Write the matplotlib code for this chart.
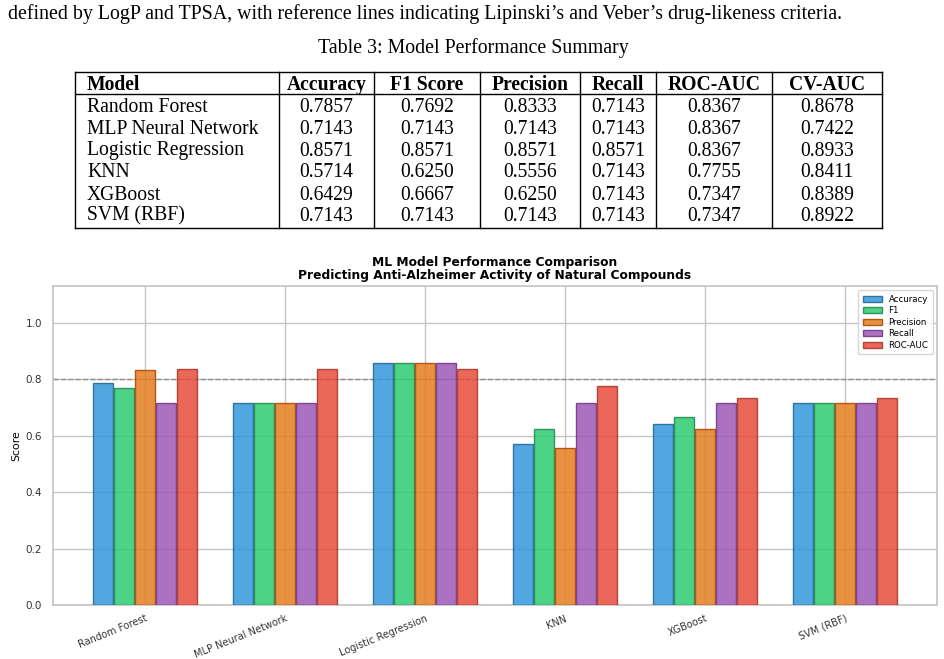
import numpy as np
import matplotlib
matplotlib.use('Agg')
import matplotlib.pyplot as plt
from matplotlib.lines import Line2D

# Data (from Table 3)
models = ['Random Forest', 'MLP Neural Network', 'Logistic Regression',
          'KNN', 'XGBoost', 'SVM (RBF)']
accuracy = [0.7857, 0.7143, 0.8571, 0.5714, 0.6429, 0.7143]
f1 = [0.7692, 0.7143, 0.8571, 0.6250, 0.6667, 0.7143]
precision = [0.8333, 0.7143, 0.8571, 0.5556, 0.6250, 0.7143]
recall = [0.7143, 0.7143, 0.8571, 0.7143, 0.7143, 0.7143]
roc_auc = [0.8367, 0.8367, 0.8367, 0.7755, 0.7347, 0.7347]
cv_auc = [0.8678, 0.7422, 0.8933, 0.8411, 0.8389, 0.8922]

headers = ['Model', 'Accuracy', 'F1 Score', 'Precision', 'Recall',
           'ROC-AUC', 'CV-AUC']
metric_names = ['Accuracy', 'F1', 'Precision', 'Recall', 'ROC-AUC']
colors = ['#3498db', '#2ecc71', '#e67e22', '#9b59b6', '#e74c3c']
edges = ['#1f6391', '#1e8449', '#a84300', '#6c3483', '#a93226']

W, H = 944, 659
fig = plt.figure(figsize=(W / 100, H / 100), dpi=100)


def fx(x):
    return x / W


def fy(y):
    return 1 - y / H


serif = 'Liberation Serif'
fs_page = 14.3
fs_tab = 14.1

# Page text above the table
fig.text(fx(8), fy(14), "defined by LogP and TPSA, with reference lines indicating "
         "Lipinski\u2019s and Veber\u2019s drug-likeness criteria.",
         family=serif, fontsize=fs_page, va='center', ha='left')
fig.text(fx(473), fy(48), 'Table 3: Model Performance Summary',
         family=serif, fontsize=fs_page, va='center', ha='center')

# Table drawn by hand
col_edges = [75, 279, 374, 480, 580, 656, 772, 882]
top, head_bot, bottom = 72, 94, 228
row_y = [85, 107, 129, 151, 173, 195, 216]


def hline(y, x0, x1, lw=1.0):
    fig.add_artist(Line2D([fx(x0), fx(x1)], [fy(y), fy(y)], color='black',
                          lw=lw, transform=fig.transFigure))


def vline(x, y0, y1, lw=1.0):
    fig.add_artist(Line2D([fx(x), fx(x)], [fy(y0), fy(y1)], color='black',
                          lw=lw, transform=fig.transFigure))


hline(top, col_edges[0], col_edges[-1])
hline(head_bot, col_edges[0], col_edges[-1])
hline(bottom, col_edges[0], col_edges[-1])
for xe in col_edges:
    vline(xe, top, bottom)

for j, h in enumerate(headers):
    if j == 0:
        fig.text(fx(col_edges[0] + 12), fy(row_y[0]), h, family=serif,
                 fontsize=fs_tab, fontweight='bold', va='center', ha='left')
    else:
        fig.text(fx((col_edges[j] + col_edges[j + 1]) / 2), fy(row_y[0]), h,
                 family=serif, fontsize=fs_tab, fontweight='bold',
                 va='center', ha='center')

table_cols = [accuracy, f1, precision, recall, roc_auc, cv_auc]
for i, m in enumerate(models):
    y = fy(row_y[i + 1])
    fig.text(fx(col_edges[0] + 12), y, m, family=serif, fontsize=fs_tab,
             va='center', ha='left')
    for j, col in enumerate(table_cols):
        fig.text(fx((col_edges[j + 1] + col_edges[j + 2]) / 2), y,
                 '%.4f' % col[i], family=serif, fontsize=fs_tab,
                 va='center', ha='center')

# Chart
ax = fig.add_axes([fx(53), fy(605), fx(937) - fx(53), fy(286) - fy(605)])
x = np.arange(len(models))
series = [accuracy, f1, precision, recall, roc_auc]
for i, vals in enumerate(series):
    ax.bar(x + (i - 2) * 0.15, vals, 0.14, color=colors[i], alpha=0.85,
           edgecolor=edges[i], linewidth=1.0, label=metric_names[i], zorder=3)

ax.axhline(0.8, color='gray', ls='--', lw=1, alpha=0.8, zorder=2)
ax.set_ylim(0, 1.13)
ax.set_xticks(x)
ax.set_xticklabels(models, rotation=22, ha='right', fontsize=7,
                   rotation_mode='anchor')
ax.set_yticks([0.0, 0.2, 0.4, 0.6, 0.8, 1.0])
ax.tick_params(axis='y', labelsize=7.5, length=0, pad=8, colors='#333333')
ax.tick_params(axis='x', length=0, pad=6, colors='#333333')
ax.set_ylabel('Score', fontsize=7.8, labelpad=3)
ax.set_title('ML Model Performance Comparison\n'
             'Predicting Anti-Alzheimer Activity of Natural Compounds',
             fontsize=8.8, fontweight='bold', pad=5, linespacing=1.0)
ax.grid(True, color='#c4c4c4', lw=1, zorder=0)
ax.set_axisbelow(True)
for s in ax.spines.values():
    s.set_color('#c4c4c4')
    s.set_linewidth(1.2)
leg = ax.legend(loc='upper right', fontsize=6.2, frameon=True,
                handlelength=2.2, borderpad=0.5, labelspacing=0.3)
leg.get_frame().set_edgecolor('#cccccc')

fig.savefig('out.png', dpi=100)
